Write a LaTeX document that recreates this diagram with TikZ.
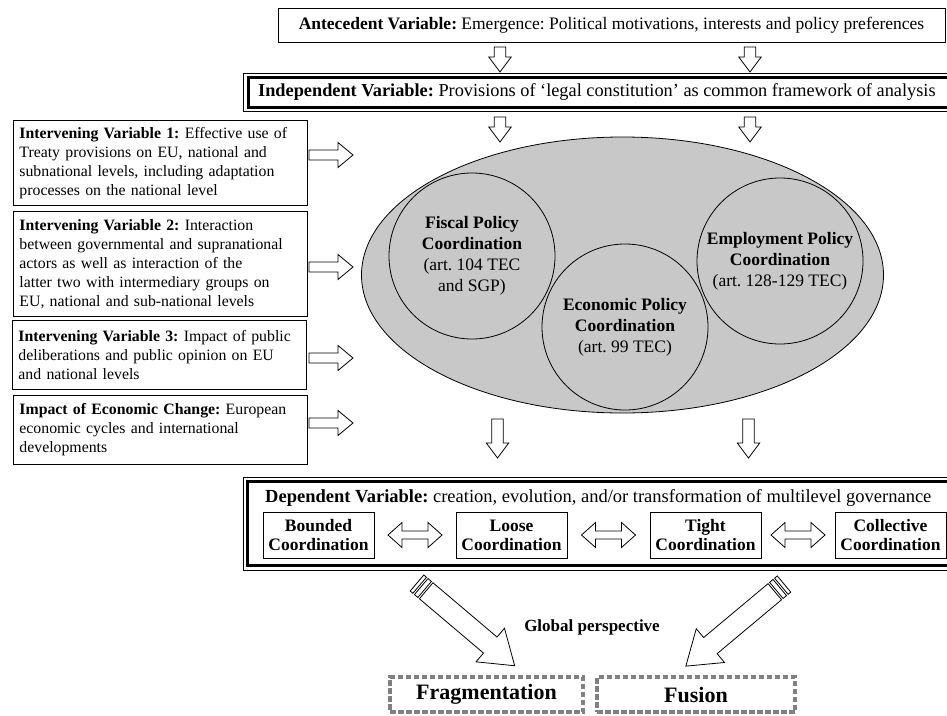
\documentclass[tikz,border=0pt]{standalone}
\usepackage{fontspec}
\setmainfont{Liberation Serif}
\usetikzlibrary{calc}
\definecolor{ellgray}{RGB}{200,200,200}
\definecolor{dashgray}{RGB}{128,128,128}
\newcommand{\myfs}[2]{\fontsize{#1pt}{#2pt}\selectfont}
\frenchspacing
\begin{document}
\begin{tikzpicture}[x=1pt,y=-1pt,
  hollow/.style={draw=black, line width=0.8pt, fill=white, line join=miter},
  plainbox/.style={draw=black, line width=0.9pt, inner sep=0pt},
  lbox/.style={plainbox, anchor=north west, text width=282pt, inner xsep=6pt, align=left, font={\myfs{15.8}{19}\hyphenpenalty=10000\frenchspacing}},
  circ/.style={circle, draw=black, line width=0.8pt, fill=ellgray, minimum size=166pt, inner sep=0pt},
  circtext/.style={align=center, inner sep=0pt, font=\myfs{17.5}{21}},
  coordbox/.style={plainbox, minimum width=111pt, minimum height=46pt, align=center, font=\myfs{17.5}{19}\bfseries},
  dashbox/.style={draw=dashgray, line width=4pt, dash pattern=on 5.5pt off 2.5pt, minimum height=35pt, inner sep=0pt, font=\myfs{22}{24}\bfseries},
  pics/dnarrow/.style={code={\draw[hollow] (-5.75,0) -- (5.75,0) -- (5.75,#1-15) -- (11.2,#1-15) -- (0,#1) -- (-11.2,#1-15) -- (-5.75,#1-15) -- cycle;}},
  pics/rarrow/.style={code={\draw[hollow] (0,-5) -- (29,-5) -- (29,-12.5) -- (44,0) -- (29,12.5) -- (29,5) -- (0,5) -- cycle;}},
  pics/dblarrow/.style={code={\draw[hollow] (-27,0) -- (-13,-12.5) -- (-13,-4) -- (13,-4) -- (13,-12.5) -- (27,0) -- (13,12.5) -- (13,4) -- (-13,4) -- (-13,12.5) -- cycle;}},
  pics/stripearrow/.style={code={
     \draw[hollow] (0,-10.5) rectangle (3.5,10.5);
     \draw[hollow] (5.5,-10.5) rectangle (10,10.5);
     \draw[hollow] (12,-10.5) -- (96,-10.5) -- (96,-22) -- (128,0) -- (96,22) -- (96,10.5) -- (12,10.5) -- cycle;}},
]
\useasboundingbox (0,0) rectangle (947,715);

% Antecedent
\node[plainbox, minimum width=667pt, minimum height=34pt, font=\myfs{17.5}{20}] (ante) at (611.5,25)
  {\textbf{Antecedent Variable:} Emergence: Political motivations, interests and policy preferences};
\pic at (500,47) {dnarrow=25};
\pic at (750,47) {dnarrow=25};

% double-bordered boxes (cut at the right edge)
\begin{scope}
\clip (0,0) rectangle (947,715);
\draw[line width=0.9pt] (243,73) rectangle (970,111);
\draw[line width=3pt] (248,77) rectangle (965,107);
\draw[line width=0.9pt] (243,477) rectangle (970,570);
\draw[line width=3pt] (247.5,481.5) rectangle (965,565.5);
\end{scope}
\node[anchor=west, inner sep=0pt, font=\myfs{18.3}{20}] (indep) at (258,92)
  {\textbf{Independent Variable:} Provisions of ‘legal constitution’ as common framework of analysis};
\pic at (500,117) {dnarrow=25};
\pic at (750,117) {dnarrow=25};

% Ellipse and circles
\draw[line width=0.8pt, fill=ellgray] (622.5,275) ellipse [x radius=261pt, y radius=138pt];
\node[circ] (fiscal) at (472,256) {};
\node[circ] (econ) at (625,327) {};
\node[circ] (empl) at (780,261) {};
\node[circtext] (fiscalt) at (fiscal) {\textbf{Fiscal Policy}\\\textbf{Coordination}\\(art. 104 TEC\\and SGP)};
\node[circtext] (econt) at (econ) {\textbf{Economic Policy}\\\textbf{Coordination}\\(art. 99 TEC)};
\node[circtext] (emplt) at (empl) {\textbf{Employment Policy}\\\textbf{Coordination}\\(art. 128-129 TEC)};

% Left boxes
\node[lbox, minimum height=85pt] (iv1) at (13,120)
  {\textbf{Intervening Variable 1:} Effective use of\\Treaty provisions on EU, national and\\subnational levels, including adaptation\\processes on the national level};
\node[lbox, minimum height=105pt] (iv2) at (13,211)
  {\textbf{Intervening Variable 2:} Interaction\\between governmental and supranational\\actors as well as interaction of the\\latter two with intermediary groups on\\EU, national and sub-national levels};
\node[lbox, minimum height=69pt] (iv3) at (12,320)
  {\textbf{Intervening Variable 3:} Impact of public\\deliberations and public opinion on EU\\and national levels};
\node[lbox, minimum height=69pt] (iec) at (13,395)
  {\textbf{Impact of Economic Change:} European\\economic cycles and international\\developments};
\pic at (309,155) {rarrow};
\pic at (309,267) {rarrow};
\pic at (309,358) {rarrow};
\pic at (309,423) {rarrow};

% arrows to dependent
\pic at (497.5,419) {dnarrow=39};
\pic at (748.5,419) {dnarrow=39};

% Dependent
\node[anchor=west, inner sep=0pt, font=\myfs{18.5}{20}] (dep) at (265,498)
  {\textbf{Dependent Variable:} creation, evolution, and/or transformation of multilevel governance};
\node[coordbox] (bounded) at (318.5,535) {Bounded\\Coordination};
\node[coordbox] (loose) at (511.5,535) {Loose\\Coordination};
\node[coordbox] (tight) at (705.5,535) {Tight\\Coordination};
\node[coordbox] (collective) at (890.5,535) {Collective\\Coordination};
\pic at ($(bounded.east)!0.5!(loose.west)$) {dblarrow};
\pic at ($(loose.east)!0.5!(tight.west)$) {dblarrow};
\pic at ($(tight.east)!0.5!(collective.west)$) {dblarrow};

% Outcome
\node[dashbox, minimum width=193pt] (frag) at (486.5,694.5) {Fragmentation};
\node[dashbox, minimum width=198pt] (fusion) at (696,694.5) {Fusion};
\node[font=\myfs{17}{20}\bfseries] (global) at (592,627) {Global perspective};

\coordinate (tailL) at (417,583);
\coordinate (tipL) at (515,666);
\coordinate (tailR) at (784,584);
\coordinate (tipR) at (686,666);
\path let \p1=($(tipL)-(tailL)$), \n1={atan2(\y1,\x1)} in pic[rotate=\n1] at (tailL) {stripearrow};
\path let \p1=($(tipR)-(tailR)$), \n1={atan2(\y1,\x1)} in pic[rotate=\n1] at (tailR) {stripearrow};
\end{tikzpicture}
\end{document}
